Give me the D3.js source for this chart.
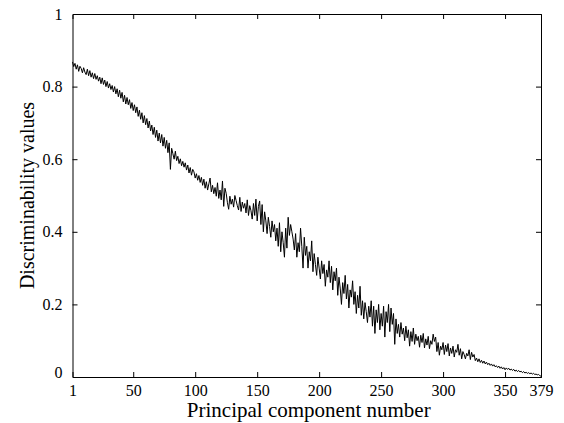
<!DOCTYPE html>
<html>
<head>
<meta charset="utf-8">
<script src="https://cdn.jsdelivr.net/npm/d3@7"></script>
<style>
  html, body { margin: 0; padding: 0; background: #fff; }
  svg { display: block; }
  text { font-family: "Liberation Serif", "DejaVu Serif", serif; fill: #000; }
</style>
</head>
<body>
<svg id="chart" width="564" height="423"></svg>
<script>
const xTicks = [1, 50, 100, 150, 200, 250, 300, 350, 379];
const yTicks = [0, 0.2, 0.4, 0.6, 0.8, 1];
const xLabel = "Principal component number";
const yLabel = "Discriminability values";

const discriminability = [
  0.868, 0.855, 0.864, 0.848, 0.860, 0.842, 0.856, 0.850, 0.838, 0.852,
  0.840, 0.833, 0.848, 0.830, 0.844, 0.826, 0.838, 0.822, 0.836, 0.820,
  0.830, 0.815, 0.826, 0.808, 0.824, 0.806, 0.818, 0.800, 0.814, 0.796,
  0.808, 0.792, 0.803, 0.785, 0.800, 0.780, 0.794, 0.772, 0.790, 0.768,
  0.784, 0.758, 0.776, 0.752, 0.770, 0.750, 0.764, 0.740, 0.756, 0.734,
  0.750, 0.728, 0.744, 0.718, 0.735, 0.710, 0.728, 0.700, 0.720, 0.695,
  0.712, 0.686, 0.705, 0.678, 0.694, 0.668, 0.688, 0.660, 0.680, 0.650,
  0.672, 0.645, 0.668, 0.636, 0.660, 0.630, 0.652, 0.618, 0.645, 0.572,
  0.630, 0.615, 0.600, 0.622, 0.596, 0.608, 0.588, 0.601, 0.582, 0.594,
  0.578, 0.590, 0.570, 0.584, 0.562, 0.577, 0.556, 0.572, 0.565, 0.548,
  0.560, 0.542, 0.555, 0.536, 0.550, 0.528, 0.545, 0.520, 0.538, 0.515,
  0.532, 0.548, 0.510, 0.528, 0.505, 0.522, 0.498, 0.535, 0.492, 0.515,
  0.488, 0.540, 0.470, 0.520, 0.506, 0.480, 0.462, 0.498, 0.476, 0.490,
  0.468, 0.500, 0.486, 0.472, 0.460, 0.495, 0.456, 0.482, 0.465, 0.478,
  0.452, 0.488, 0.445, 0.472, 0.458, 0.435, 0.478, 0.445, 0.490, 0.430,
  0.470, 0.485, 0.420, 0.475, 0.400, 0.455, 0.430, 0.395, 0.440, 0.415,
  0.385, 0.430, 0.400, 0.420, 0.375, 0.410, 0.360, 0.425, 0.345, 0.400,
  0.370, 0.330, 0.410, 0.355, 0.440, 0.390, 0.420, 0.400, 0.380, 0.350,
  0.395, 0.330, 0.370, 0.345, 0.410, 0.360, 0.300, 0.385, 0.335, 0.360,
  0.300, 0.345, 0.320, 0.375, 0.290, 0.340, 0.310, 0.280, 0.330, 0.300,
  0.270, 0.320, 0.285, 0.310, 0.250, 0.295, 0.275, 0.320, 0.260, 0.305,
  0.240, 0.290, 0.265, 0.300, 0.225, 0.275, 0.245, 0.200, 0.260, 0.230,
  0.280, 0.215, 0.255, 0.190, 0.240, 0.220, 0.265, 0.200, 0.235, 0.175,
  0.225, 0.190, 0.250, 0.170, 0.210, 0.160, 0.205, 0.180, 0.150, 0.195,
  0.165, 0.210, 0.140, 0.195, 0.120, 0.185, 0.150, 0.200, 0.130, 0.175,
  0.140, 0.195, 0.110, 0.180, 0.150, 0.200, 0.125, 0.190, 0.145, 0.175,
  0.090, 0.160, 0.120, 0.145, 0.110, 0.150, 0.118, 0.135, 0.100, 0.140,
  0.108, 0.130, 0.085, 0.125, 0.098, 0.135, 0.090, 0.118, 0.100, 0.112,
  0.082, 0.115, 0.095, 0.120, 0.080, 0.105, 0.088, 0.112, 0.078, 0.100,
  0.090, 0.118, 0.098, 0.110, 0.070, 0.095, 0.060, 0.085, 0.075, 0.095,
  0.062, 0.088, 0.070, 0.092, 0.058, 0.080, 0.065, 0.085, 0.055, 0.075,
  0.068, 0.090, 0.060, 0.078, 0.050, 0.070, 0.062, 0.050, 0.065, 0.058,
  0.075, 0.048, 0.068, 0.055, 0.062, 0.045, 0.052, 0.042, 0.050, 0.040,
  0.046, 0.038, 0.044, 0.036, 0.041, 0.034, 0.038, 0.032, 0.036, 0.030,
  0.034, 0.028, 0.031, 0.026, 0.030, 0.024, 0.028, 0.022, 0.026, 0.020,
  0.025, 0.021, 0.024, 0.019, 0.022, 0.018, 0.021, 0.016, 0.019, 0.015,
  0.018, 0.014, 0.016, 0.012, 0.015, 0.011, 0.013, 0.010, 0.012, 0.009,
  0.011, 0.008, 0.010, 0.007, 0.008, 0.006, 0.007, 0.004, 0.002
];
const components = discriminability.map((_, i) => i + 1);

const margin = { left: 72.5, right: 23, top: 14, bottom: 46 };
const W = 564, H = 423;
const FONT = "'Liberation Serif', 'DejaVu Serif', serif";
const svg = d3.select("#chart");

const x = d3.scaleLinear().domain([1, 379]).range([margin.left, W - margin.right]);
const y = d3.scaleLinear().domain([0, 1]).range([H - margin.bottom, margin.top]);

const tickLen = 5;
const fmtY = d => (d === 0 || d === 1) ? String(d) : d.toFixed(1);

const gB = svg.append("g").attr("transform", `translate(0,${y(0)})`)
  .call(d3.axisBottom(x).tickValues(xTicks).tickSize(-tickLen).tickPadding(8).tickFormat(d3.format("d")));
const gT = svg.append("g").attr("transform", `translate(0,${y(1)})`)
  .call(d3.axisTop(x).tickValues(xTicks).tickSize(-tickLen).tickFormat(""));
const gL = svg.append("g").attr("transform", `translate(${x(1)},0)`)
  .call(d3.axisLeft(y).tickValues(yTicks).tickSize(-tickLen).tickPadding(10).tickFormat(fmtY));
const gR = svg.append("g").attr("transform", `translate(${x(379)},0)`)
  .call(d3.axisRight(y).tickValues(yTicks).tickSize(-tickLen).tickFormat(""));

[gB, gT, gL, gR].forEach(g => {
  g.attr("font-family", FONT).attr("font-size", 16);
  g.select(".domain").attr("stroke", "#000").attr("stroke-width", 1);
  g.selectAll(".tick line").attr("stroke", "#000");
  g.selectAll("text").attr("font-family", FONT).style("font-family", FONT).style("font-size", "16px").attr("fill", "#000");
});
gB.selectAll(".tick").filter(d => d === 1 || d === 379).select("line").remove();
gT.selectAll(".tick").filter(d => d === 1 || d === 379).select("line").remove();
gL.selectAll(".tick").filter(d => d === 0 || d === 1).select("line").remove();
gR.selectAll(".tick").filter(d => d === 0 || d === 1).select("line").remove();
gL.selectAll(".tick").filter(d => d === 0).select("text").attr("dy", "0.05em");

const line = d3.line().x((d, i) => x(components[i])).y(d => y(d));
svg.append("path")
  .datum(discriminability)
  .attr("fill", "none")
  .attr("stroke", "#000")
  .attr("stroke-width", 1)
  .attr("d", line);

svg.append("text")
  .attr("x", (x(1) + x(379)) / 2 + 2)
  .attr("y", 417)
  .attr("text-anchor", "middle")
  .style("font-family", FONT)
  .style("font-size", "21px")
  .text(xLabel);

svg.append("text")
  .attr("transform", `translate(34,${(y(0) + y(1)) / 2}) rotate(-90)`)
  .attr("text-anchor", "middle")
  .style("font-family", FONT)
  .style("font-size", "20px")
  .text(yLabel);
</script>
</body>
</html>
